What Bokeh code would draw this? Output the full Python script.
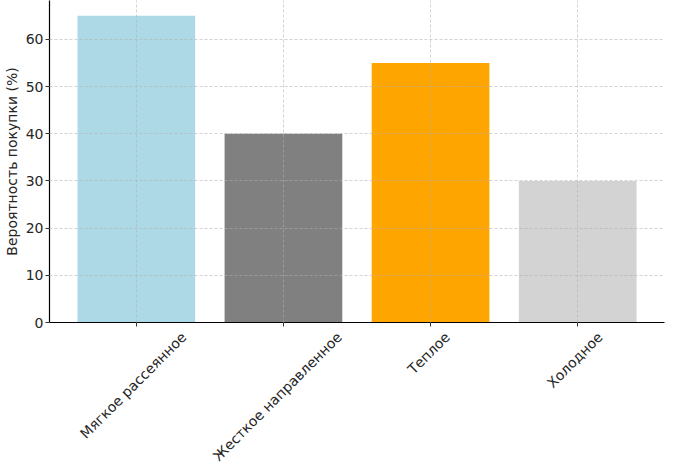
import math
from bokeh.plotting import figure
from bokeh.models import Range1d, FixedTicker, LinearAxis
from bokeh.embed import file_html
from bokeh.resources import INLINE

categories = ["Мягкое рассеянное", "Жесткое направленное", "Теплое", "Холодное"]
values = [65, 40, 55, 30]
colors = ["#ADD8E6", "#808080", "#FFA500", "#D3D3D3"]
y_ticks = [0, 10, 20, 30, 40, 50, 60]
y_label = "Вероятность покупки (%)"

xs = list(range(len(categories)))

W, H = 668, 472
LEFT_PX, RIGHT_PX = 49, 4
X_PAD = 0.59
p = figure(width=W, height=H, output_backend="svg", toolbar_location=None,
           x_range=Range1d(-X_PAD, len(categories) - 1 + X_PAD),
           y_range=Range1d(0, max(values) * 1.05),
           min_border_left=0, min_border_top=0, min_border_right=RIGHT_PX,
           min_border_bottom=0)
p.outline_line_color = None
p.background_fill_color = "white"

p.vbar(x=xs, top=values, width=0.8, color=colors, line_color=None)

FONT = "DejaVu Sans"
p.xaxis.ticker = FixedTicker(ticks=xs)
p.xaxis.major_label_overrides = {i: "" for i in xs}
p.xaxis.major_label_standoff = 0
p.yaxis.ticker = FixedTicker(ticks=y_ticks)
p.yaxis.axis_label = y_label

for ax in (p.xaxis, p.yaxis):
    ax.axis_line_color = "black"
    ax.axis_line_width = 1.2
    ax.major_tick_line_color = "#333333"
    ax.major_tick_out = 4
    ax.major_tick_in = 0
    ax.minor_tick_line_color = None
p.yaxis.major_label_text_font = FONT
p.yaxis.major_label_text_font_size = "14px"
p.yaxis.major_label_text_color = "#262626"
p.yaxis.major_label_standoff = 2
p.yaxis.axis_label_text_font = FONT
p.yaxis.axis_label_text_font_size = "14px"
p.yaxis.axis_label_text_font_style = "normal"
p.yaxis.axis_label_text_color = "#262626"
p.yaxis.axis_label_standoff = 3

# rotated category labels with their bounding box centred under each bar
# (matplotlib style): shift each label by half its rotated width
CHAR_W = 7.9
px_per_unit = (W - LEFT_PX - RIGHT_PX) / (len(categories) - 1 + 2 * X_PAD)
shift = [len(c) * CHAR_W * math.cos(math.pi / 4) / 2 / px_per_unit for c in categories]
label_pos = [x + s for x, s in zip(xs, shift)]
lab_axis = LinearAxis(ticker=FixedTicker(ticks=label_pos),
                      major_label_overrides={lp: c for lp, c in zip(label_pos, categories)},
                      major_label_orientation=math.pi / 4,
                      major_label_text_font=FONT, major_label_text_font_size="14px",
                      major_label_text_color="#262626", major_label_standoff=2,
                      axis_line_color=None, major_tick_line_color=None,
                      minor_tick_line_color=None)
p.add_layout(lab_axis, "below")

p.grid.grid_line_color = "#b0b0b0"
p.grid.grid_line_alpha = 0.7
p.grid.grid_line_dash = "3 2"
p.grid.grid_line_width = 0.8
p.grid.level = "guide"
p.xgrid.ticker = FixedTicker(ticks=xs)
p.ygrid.ticker = FixedTicker(ticks=y_ticks)

open("out.html", "w").write(file_html(p, INLINE))
